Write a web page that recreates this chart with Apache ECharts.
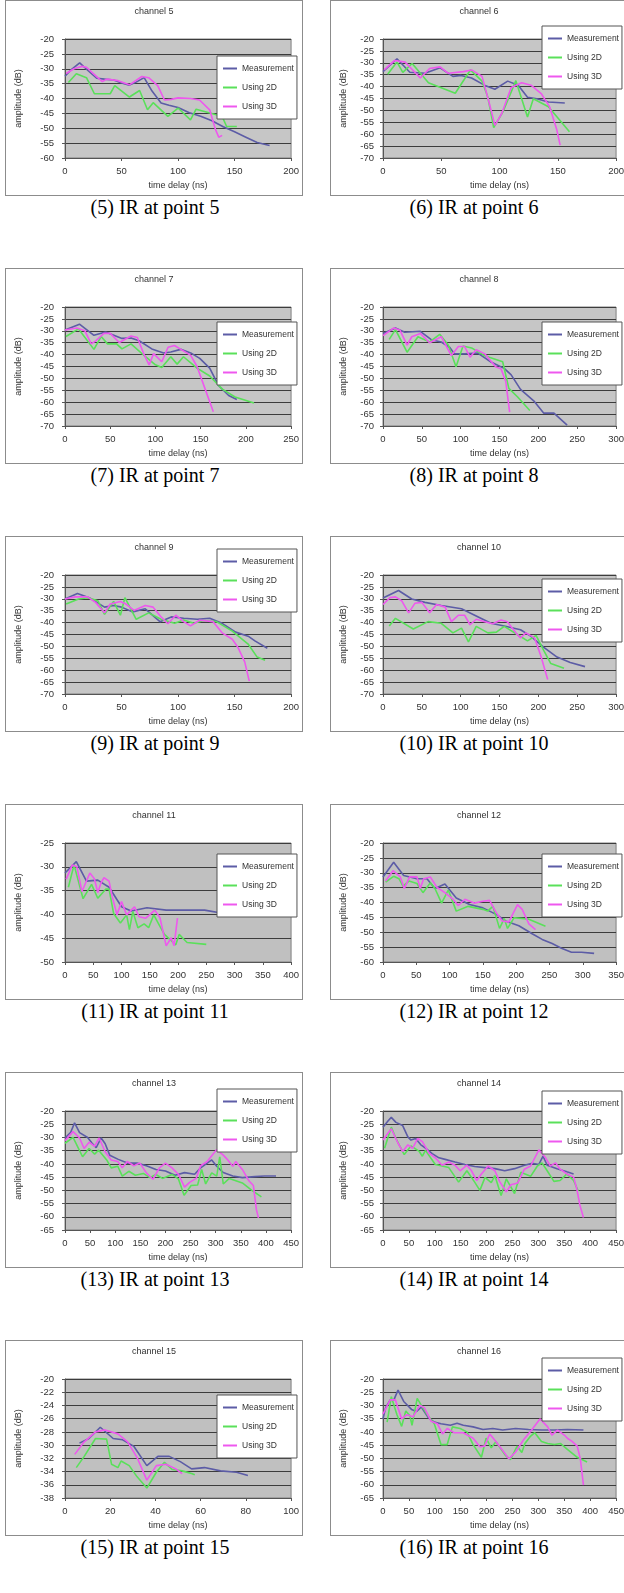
<!DOCTYPE html>
<html>
<head>
<meta charset="utf-8">
<script src="https://cdn.jsdelivr.net/npm/echarts@6/dist/echarts.min.js"></script>
<style>
    body { margin: 0; width: 624px; height: 1593px; overflow: hidden; position: relative; background: #fff; }
    .box { position: absolute; width: 296px; height: 194px; border: 1px solid #8c8c8c; background: #fff; }
    .cap { position: absolute; width: 300px; text-align: center; font-family: "Liberation Serif", "Times New Roman", serif; font-size: 20px; line-height: 24px; color: #000; }
</style>
</head>
<body>
<script type="text/javascript">
    // 图表数据 [时延 ns, 幅度 dB]
    var meas5 = [[0,-32.5],[5,-30.5],[13,-28],[20,-30.5],[28,-33.2],[35,-33.5],[43,-33.8],[50,-34.8],[57,-35.5],[63,-34.5],[70,-33],[77,-37.5],[85,-41.5],[92,-42.3],[100,-43],[110,-44.8],[120,-46],[130,-47.5],[140,-49.5],[150,-51.2],[160,-53],[170,-54.8],[181,-55.8]];
    var twoD5 = [[3,-34.6],[10,-31.7],[19,-33],[26,-38.4],[40,-38.4],[44,-35.7],[57,-39.5],[66,-37.3],[73,-43.8],[78,-41.4],[91,-46],[100,-43.2],[111,-47.2],[116,-43.6],[133,-45.4],[139,-46],[143,-49.4],[152,-49.4]];
    var threeD5 = [[1,-31.6],[8,-30],[15,-29.2],[19,-29.5],[29,-33],[33,-34.3],[37,-33.5],[47,-34],[57,-35.4],[68,-32.6],[74,-33],[82,-35.7],[88,-40.5],[94,-40.3],[100,-39.8],[111,-40],[119,-40.5],[128,-43.8],[133,-50.3],[136,-53],[139,-52.4]];

    var meas6 = [[0,-33.7],[12,-28.3],[23,-34],[36,-34.4],[49,-32.1],[60,-35.7],[67,-35.3],[76,-36.4],[87,-39.4],[96,-41.1],[107,-37.7],[116,-39.4],[124,-44.5],[132,-45.1],[142,-46.5],[156,-46.9]];
    var twoD6 = [[4,-34.8],[12,-29.7],[17,-34],[25,-30.3],[39,-38.4],[62,-42.8],[75,-33],[85,-37.7],[90,-44.5],[95,-57.2],[103,-50.5],[114,-37.5],[124,-52.8],[129,-45.1],[142,-48.5],[160,-59]];
    var threeD6 = [[1,-33],[10,-29],[19,-29.7],[32,-36.4],[40,-32.4],[49,-31.7],[56,-34.4],[69,-33.7],[76,-33],[85,-35.7],[92,-48.5],[96,-56.3],[102,-51.2],[110,-40.4],[119,-38.4],[127,-39.4],[136,-43.1],[143,-48.5],[149,-57.9],[152,-64.6]];

    var meas7 = [[0,-29.7],[16,-27.2],[32,-31.9],[45,-30.5],[63,-33.2],[73,-33],[82,-34.2],[96,-37.6],[109,-39.3],[117,-38.9],[128,-37.8],[139,-39.3],[149,-41.6],[160,-45.7],[170,-53.1],[181,-57.2],[190,-58.9]];
    var twoD7 = [[1,-32.4],[15,-29.2],[32,-37.8],[40,-32.4],[47,-35.5],[57,-35.5],[63,-37.6],[73,-35.5],[89,-40.9],[100,-44.3],[107,-45.4],[117,-40.9],[124,-44],[131,-40.9],[146,-45.7],[160,-49],[174,-54.5],[188,-57.8],[209,-60.3]];
    var threeD7 = [[0,-29.7],[13,-28.8],[22,-30],[29,-35.5],[34,-34.2],[43,-31.1],[50,-31.1],[60,-34.9],[73,-32.2],[80,-32.8],[87,-39.6],[93,-44.3],[98,-39.6],[107,-43],[114,-36.9],[121,-36.2],[130,-38.2],[139,-40.3],[146,-45],[155,-54.5],[164,-64]];

    var meas8 = [[0,-31.1],[16,-28.8],[28,-30.6],[48,-30.2],[63,-33.9],[75,-34.7],[86,-37],[92,-39.7],[105,-39.7],[122,-39.4],[139,-43.1],[156,-45.8],[165,-48.5],[177,-54.6],[194,-59.4],[207,-64.6],[220,-64.6],[237,-69.6]];
    var twoD8 = [[8,-33.6],[16,-29.5],[31,-39],[45,-32.5],[60,-34.7],[73,-31.5],[84,-36],[94,-45.1],[103,-36.4],[114,-37.2],[131,-40.5],[154,-43],[162,-54.2],[173,-57.7],[189,-63.5]];
    var threeD8 = [[0,-32],[14,-28.8],[22,-29.8],[31,-36],[37,-32.5],[48,-31.1],[60,-35],[75,-32.5],[88,-40.4],[97,-36.6],[105,-36.6],[112,-41.1],[120,-38],[131,-39.7],[145,-45.1],[152,-46],[158,-51.3],[163,-64.2]];

    var meas9 = [[0,-30.1],[11,-27.8],[22,-29.7],[35,-33.5],[43,-32.8],[50,-33.5],[60,-35.5],[71,-34.2],[84,-39.6],[94,-37.6],[105,-38.2],[117,-38.6],[128,-38.2],[139,-40.3],[151,-44],[162,-45.7],[168,-47.7],[179,-50.8]];
    var twoD9 = [[1,-32.2],[12,-30.1],[20,-29.5],[29,-30.8],[35,-36.5],[43,-31.1],[49,-36.9],[53,-29.5],[63,-38.6],[74,-35.9],[85,-38.6],[97,-40.3],[105,-38.9],[114,-40.3],[122,-39.2],[134,-39.6],[148,-43.6],[162,-49],[170,-54.5],[177,-55.8]];
    var threeD9 = [[0,-30.1],[9,-29.2],[20,-29.2],[27,-31.5],[35,-35.9],[40,-32.2],[49,-31.1],[54,-32.2],[61,-34.9],[71,-32.8],[78,-33.5],[85,-37.6],[91,-40.5],[98,-36.9],[105,-39.6],[111,-41.4],[119,-39],[131,-39.6],[139,-44.3],[148,-47],[153,-50.4],[159,-56.5],[163,-64.6]];

    var meas10 = [[0,-29.7],[20,-26.5],[37,-30.1],[54,-31.5],[75,-32.8],[101,-34.2],[118,-36.9],[139,-40.3],[156,-41.4],[177,-43],[190,-45.7],[207,-50.4],[224,-54.5],[241,-56.8],[260,-58.5]];
    var twoD10 = [[8,-41.4],[16,-38.2],[39,-42.7],[58,-39.6],[75,-40.3],[90,-44.3],[101,-42.3],[110,-48.1],[120,-41.6],[135,-44.3],[146,-44],[156,-41.6],[173,-45],[186,-47.7],[197,-45.4],[207,-51.8],[216,-57.2],[233,-59.2]];
    var threeD10 = [[0,-32.4],[9,-29.5],[16,-29.2],[24,-30.8],[33,-35.9],[41,-31.9],[50,-31.5],[60,-35.9],[69,-32.4],[80,-33.5],[88,-39.6],[97,-36.9],[105,-36.9],[112,-40.9],[120,-38.6],[131,-39.6],[141,-40.5],[152,-38.9],[160,-39.6],[171,-44.3],[177,-46.4],[184,-44.3],[195,-46.4],[203,-53.8],[212,-63.9]];

    var meas11 = [[0,-31.3],[20,-28.9],[38,-33],[58,-32.8],[78,-34.3],[100,-38.4],[117,-39.3],[145,-38.6],[179,-39.1],[213,-39.1],[247,-39.1],[281,-39.8],[314,-39.3],[337,-40]];
    var twoD11 = [[6,-34.3],[16,-29.6],[32,-36.7],[47,-33.7],[58,-36.6],[72,-34.7],[78,-34.7],[86,-39.8],[98,-41.8],[109,-40.1],[114,-43.2],[120,-39.4],[129,-42.8],[140,-42],[148,-42.8],[157,-40.1],[168,-42.5],[176,-44.2],[196,-46.4],[202,-44.2],[216,-45.9],[250,-46.3]];
    var threeD11 = [[2,-32.6],[13,-29.6],[21,-30],[30,-35.2],[44,-31.3],[52,-32.5],[58,-35.4],[64,-33.3],[69,-32.3],[78,-33],[83,-36],[92,-40.1],[100,-37.3],[109,-40.1],[123,-38.4],[131,-40.5],[143,-40.8],[159,-39.1],[168,-40.7],[179,-46.6],[188,-44.9],[193,-46.6],[199,-40.8]];

    var meas12 = [[0,-31.4],[16,-26.5],[31,-30.9],[51,-32],[66,-32],[78,-35.3],[93,-33.8],[110,-38.5],[130,-40.7],[150,-41.8],[170,-44],[184,-46.2],[204,-47.8],[224,-50.5],[239,-52.4],[254,-53.8],[268,-55.4],[283,-56.7],[298,-56.7],[317,-57.1]];
    var twoD12 = [[4,-33.1],[16,-31.2],[24,-32],[30,-34.5],[39,-32.8],[51,-33.6],[60,-36.7],[71,-33.4],[78,-35.3],[88,-40.2],[98,-35.8],[110,-42.9],[128,-41.3],[150,-42.3],[157,-42.9],[165,-41.3],[175,-48.7],[182,-45.4],[187,-48.7],[197,-45.1],[219,-45.6],[244,-48]];
    var threeD12 = [[4,-32.8],[15,-29.3],[26,-31.4],[32,-35.3],[40,-31.4],[51,-31.4],[56,-35.3],[61,-32],[71,-31.4],[81,-34.9],[93,-36.7],[105,-38.9],[113,-41],[123,-38.9],[137,-40.2],[150,-39.6],[160,-39.3],[170,-43.4],[179,-46.2],[189,-46.5],[202,-40.7],[209,-42.3],[219,-47.2],[229,-49.1]];

    var meas13 = [[0,-30.2],[11,-28.2],[19,-24.5],[29,-28.2],[45,-30],[54,-32.2],[62,-33.9],[72,-30.2],[80,-32.4],[89,-36.7],[105,-38.2],[124,-39.7],[143,-39.7],[162,-40.7],[181,-42.1],[200,-42.7],[219,-44.3],[238,-43.3],[258,-43.9],[270,-41.5],[283,-39.7],[292,-38.5],[302,-40.9],[315,-43.3],[334,-44.6],[353,-45.2],[378,-44.8],[397,-44.6],[420,-44.6]];
    var twoD13 = [[0,-32.2],[16,-30],[35,-37.3],[48,-34.2],[59,-36.3],[67,-34.8],[83,-38.5],[92,-41.5],[105,-40.9],[114,-44.6],[127,-42.8],[140,-44.3],[156,-43.6],[169,-45.2],[181,-44],[194,-45.5],[213,-44],[226,-45.8],[237,-51.9],[251,-48.2],[264,-48],[272,-42.1],[280,-47.6],[292,-43.4],[302,-44.6],[308,-37.3],[315,-47.6],[327,-45.5],[353,-47.2],[372,-50],[391,-52.5]];
    var threeD13 = [[0,-31.2],[16,-27.8],[29,-30.2],[38,-34.2],[48,-31.8],[59,-33.4],[68,-30.2],[80,-35.4],[92,-38.5],[105,-39.1],[114,-41.5],[124,-39.1],[137,-40.7],[149,-39.7],[162,-43.4],[175,-45.8],[188,-41.5],[200,-39.7],[213,-41.5],[226,-44],[238,-48.8],[248,-47],[261,-45.5],[270,-40.7],[283,-39.1],[302,-34.6],[315,-36.7],[324,-38.5],[334,-40.9],[340,-39.1],[353,-42.1],[366,-46.4],[375,-48.2],[381,-57.3],[385,-60.4]];

    var meas14 = [[0,-26.1],[10,-23.7],[16,-22.4],[25,-24.3],[38,-25.5],[48,-29.8],[54,-31],[63,-30.4],[73,-32.8],[82,-34],[95,-36.1],[108,-37.7],[120,-38.3],[139,-39.3],[158,-40.2],[177,-41],[197,-41.4],[216,-41.8],[235,-42.6],[254,-41.8],[273,-40.5],[288,-39.8],[301,-40.2],[309,-37.1],[317,-40.5],[336,-41.8],[355,-43],[368,-43.8]];
    var twoD14 = [[3,-34.1],[16,-26.1],[25,-30.4],[41,-36.5],[54,-33.2],[70,-35.3],[76,-37.1],[82,-34.9],[101,-40.2],[127,-41.4],[146,-46.9],[162,-42.6],[177,-46.9],[187,-50],[197,-45.1],[209,-47.1],[216,-44.4],[228,-52],[238,-45.7],[254,-51.2],[266,-43.2],[285,-44.7],[298,-40.8],[307,-39.6],[317,-42.6],[330,-46.6],[342,-46.3],[355,-43.8],[368,-46.3],[377,-50.3]];
    var threeD14 = [[0,-31],[16,-26.7],[29,-32.2],[38,-35.3],[48,-32.8],[57,-34.1],[67,-30.4],[76,-31.6],[89,-35.9],[101,-37.7],[114,-40.5],[127,-39.3],[139,-40.5],[149,-42.6],[162,-40.5],[171,-42.6],[181,-46.3],[190,-43.8],[203,-40.8],[216,-42.6],[225,-46.6],[238,-50.6],[247,-47.9],[260,-47.2],[273,-42],[285,-40.8],[301,-34.7],[314,-37.7],[323,-40.8],[333,-39.6],[342,-42],[355,-43.8],[368,-45],[374,-49.3],[380,-55.5],[387,-60.3]];

    var meas15 = [[6.4,-29.7],[10.6,-29],[15.6,-27.3],[21.3,-29],[25.5,-29.2],[30.5,-30.2],[36.2,-33.1],[41.1,-31.7],[46.1,-31.7],[51,-32.5],[56,-33.6],[61.7,-33.4],[68.8,-33.9],[75.9,-34.1],[80.9,-34.6]];
    var twoD15 = [[5,-33.4],[8.5,-31.7],[13.5,-29],[18.4,-29.1],[20.6,-32.9],[23.4,-33.4],[24.8,-32.4],[28.4,-33.1],[31.9,-34.8],[36.2,-36.5],[40.4,-34.1],[44,-32.6],[47.5,-33.7],[51.8,-33.9],[56,-34.3],[57.4,-34.5]];
    var threeD15 = [[4.3,-31.4],[8.5,-29.5],[13.5,-28],[17.7,-27.7],[23.4,-28.3],[27.7,-29.5],[31.9,-31.9],[36.2,-35.3],[40.4,-33.1],[44.7,-32.9],[49,-33.6],[51.8,-34.3]];

    var meas16 = [[0,-35.1],[5,-30.9],[14,-27.9],[21,-27.9],[29,-24.2],[40,-28.5],[55,-31.5],[65,-32.3],[74,-30.6],[87,-34.5],[99,-36.3],[112,-36.9],[130,-37.5],[143,-36.7],[155,-37.5],[174,-38.1],[193,-39.1],[212,-38.7],[231,-39.3],[256,-38.7],[281,-39.1],[306,-39.3],[331,-39.3],[356,-39.1],[387,-39.3]];
    var twoD16 = [[8,-36.3],[16,-26.7],[27,-33.5],[36,-37.9],[44,-32.1],[52,-33.9],[56,-37.5],[66,-27.3],[77,-30.9],[87,-33.9],[99,-36.9],[112,-44.8],[124,-44.8],[134,-38.1],[149,-38.7],[162,-40],[174,-44.8],[190,-49.6],[199,-42.4],[209,-46],[218,-43.7],[237,-49],[246,-50.5],[259,-45.4],[268,-47.8],[274,-44.4],[284,-41.8],[293,-40.3],[306,-43.6],[318,-44.4],[331,-44.8],[343,-44.4],[356,-46.6],[375,-49.6],[394,-51.4]];
    var threeD16 = [[0,-33.3],[14,-27.9],[24,-27.9],[36,-35.1],[46,-33.5],[58,-34.3],[71,-29.9],[80,-30.9],[93,-36],[105,-36.9],[115,-40.8],[124,-38.7],[137,-40.3],[155,-40.3],[174,-42.4],[187,-45.6],[196,-45.4],[206,-40.8],[218,-43.6],[234,-47.8],[243,-50.2],[256,-47.6],[271,-43.1],[287,-39.3],[303,-35.1],[318,-38.1],[326,-41.2],[337,-39.3],[350,-41.2],[356,-42.4],[365,-43.6],[375,-45.4],[381,-50.2],[387,-60.1]];

    // 坐标轴范围
    var channels = [5, 6, 7, 8, 9, 10, 11, 12, 13, 14, 15, 16];
    var xMax  = [200, 200, 250, 300, 200, 300, 400, 350, 450, 450, 100, 450];
    var xStep = [50, 50, 50, 50, 50, 50, 50, 50, 50, 50, 20, 50];
    var yMin  = [-60, -70, -70, -70, -70, -70, -50, -60, -65, -65, -38, -65];
    var yMax  = [-20, -20, -20, -20, -20, -20, -25, -20, -20, -20, -20, -20];
    var yStep = [5, 5, 5, 5, 5, 5, 5, 5, 5, 5, 2, 5];
    var seriesNames = ['Measurement', 'Using 2D', 'Using 3D'];

    var measAll   = [meas5, meas6, meas7, meas8, meas9, meas10, meas11, meas12, meas13, meas14, meas15, meas16];
    var twoDAll   = [twoD5, twoD6, twoD7, twoD8, twoD9, twoD10, twoD11, twoD12, twoD13, twoD14, twoD15, twoD16];
    var threeDAll = [threeD5, threeD6, threeD7, threeD8, threeD9, threeD10, threeD11, threeD12, threeD13, threeD14, threeD15, threeD16];

    // 图例位置（相对每个框）
    var legendTop = [56, 26, 54, 54, 13, 43, 50, 50, 17, 19, 55, 18];
    var colors = ['#5c5ca6', '#5ae05a', '#ee58ee'];
    var font = 'Liberation Sans';

    for (var i = 0; i < channels.length; i++) {
        var col = i % 2, row = Math.floor(i / 2);
        var boxLeft = 5 + 325 * col, boxTop = 268 * row;
        var ch = channels[i];

        var div = document.createElement('div');
        div.className = 'box';
        div.style.left = boxLeft + 'px';
        div.style.top = boxTop + 'px';
        document.body.appendChild(div);

        var cap = document.createElement('div');
        cap.className = 'cap';
        cap.style.left = ((col ? 474 : 155) - 150) + 'px';
        cap.style.top = (boxTop + 207 - 12) + 'px';
        cap.textContent = '(' + ch + ') IR at point ' + ch;
        document.body.appendChild(cap);

        var small = {fontSize: 9, color: '#333', fontFamily: font};
        var lines = [measAll[i], twoDAll[i], threeDAll[i]].map(function (d, k) {
            return {
                name: seriesNames[k], type: 'line', data: d,
                symbol: 'none', showSymbol: false,
                lineStyle: {color: colors[k], width: 1.6},
                itemStyle: {color: colors[k]}
            };
        });

        var myChart = echarts.init(div);
        myChart.setOption({
            animation: false,
            textStyle: {fontFamily: font},
            title: {
                text: 'channel ' + ch, left: 'center', top: 6, padding: 0,
                textStyle: {fontSize: 9, fontWeight: 'normal', color: '#333', fontFamily: font}
            },
            legend: {
                orient: 'vertical', left: 211, top: legendTop[i] - 1,
                data: seriesNames, icon: 'rect', itemWidth: 14, itemHeight: 2, itemGap: 10,
                padding: [8, 3, 8, 6], borderColor: '#555', borderWidth: 1, backgroundColor: '#fff',
                selectedMode: false,
                textStyle: {fontSize: 8.5, color: '#333', fontFamily: font}
            },
            grid: {
                left: 50, top: 38, width: 236, height: 123, show: true,
                backgroundColor: i < 6 ? '#c6c6c6' : '#c0c0c0',
                borderColor: '#808080', borderWidth: 1
            },
            xAxis: {
                type: 'value', min: 0, max: xMax[i], interval: xStep[i],
                name: 'time delay (ns)', nameLocation: 'middle', nameGap: 23, nameTextStyle: small,
                axisLine: {show: true, onZero: false, lineStyle: {color: '#555'}},
                axisTick: {show: true, length: 3, lineStyle: {color: '#555'}},
                axisLabel: {fontSize: 9.5, color: '#333', margin: 8},
                splitLine: {show: false}
            },
            yAxis: {
                type: 'value', min: yMin[i], max: yMax[i], interval: yStep[i],
                name: 'amplitude (dB)', nameLocation: 'middle', nameGap: col ? 35 : 42, nameTextStyle: small,
                axisLine: {show: true, lineStyle: {color: '#555'}},
                axisTick: {show: true, length: 3, lineStyle: {color: '#555'}},
                axisLabel: {fontSize: 9.5, color: '#333', margin: col ? 9 : 11},
                splitLine: {show: true, lineStyle: {color: '#3c3c3c', width: 1.2}}
            },
            series: lines
        });
    }
</script>
</body>
</html>
